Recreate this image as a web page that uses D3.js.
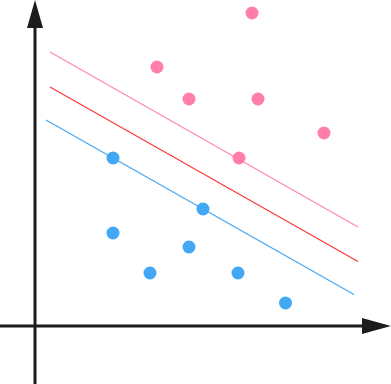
<!DOCTYPE html>
<html>
<head>
<meta charset="utf-8">
<script src="https://cdn.jsdelivr.net/npm/d3@7"></script>
<style>
html,body{margin:0;padding:0;background:#fff;}
svg{display:block;}
</style>
</head>
<body>
<svg id="chart" width="391" height="384"></svg>
<script>
// Data (arbitrary units; origin at axes crossing)
const classAX = [21.7, 12.2, 15.4, 22.3, 28.9, 20.4];
const classAY = [31.3, 25.9, 22.7, 22.7, 19.3, 16.8];
const classBX = [7.8, 16.8, 7.8, 15.4, 11.5, 20.3, 25.05];
const classBY = [16.8, 11.7, 9.3, 7.9, 5.3, 5.3, 2.3];
// separating lines: [x1, y1, x2, y2]
const upperMargin = [1.5, 27.4, 32.3, 9.9];
const decisionLine = [1.5, 23.9, 32.3, 6.45];
const lowerMargin = [1.1, 20.6, 31.9, 3.15];

const W = 391, H = 384;
const svg = d3.select("#chart");
const x = d3.scaleLinear().domain([-3.5, 35.6]).range([0, W]);
const y = d3.scaleLinear().domain([-5.8, 32.6]).range([H, 0]);

const axisColor = "#1c1c1c";
const x0 = x(0), y0 = y(0);

// axes
svg.append("line").attr("x1", 0).attr("x2", 362).attr("y1", y0).attr("y2", y0)
  .attr("stroke", axisColor).attr("stroke-width", 3);
svg.append("line").attr("x1", x0).attr("x2", x0).attr("y1", H).attr("y2", 28)
  .attr("stroke", axisColor).attr("stroke-width", 3);
svg.append("path").attr("d", `M391,${y0} L362,${y0-8} L362,${y0+8} Z`).attr("fill", axisColor);
svg.append("path").attr("d", `M${x0},0 L${x0-8},28 L${x0+8},28 Z`).attr("fill", axisColor);

// lines
const lines = [
  {d: upperMargin, c: "#ff8ab4"},
  {d: decisionLine, c: "#ff3838"},
  {d: lowerMargin, c: "#4aa8f2"}
];
svg.selectAll("line.sep").data(lines).enter().append("line").attr("class", "sep")
  .attr("x1", d => x(d.d[0])).attr("y1", d => y(d.d[1]))
  .attr("x2", d => x(d.d[2])).attr("y2", d => y(d.d[3]))
  .attr("stroke", d => d.c).attr("stroke-width", 1.3);

// points
const A = classAX.map((v, i) => [v, classAY[i]]);
const B = classBX.map((v, i) => [v, classBY[i]]);
svg.selectAll("circle.a").data(A).enter().append("circle").attr("class", "a")
  .attr("cx", d => x(d[0])).attr("cy", d => y(d[1])).attr("r", 6.5).attr("fill", "#ff7eab");
svg.selectAll("circle.b").data(B).enter().append("circle").attr("class", "b")
  .attr("cx", d => x(d[0])).attr("cy", d => y(d[1])).attr("r", 6.5).attr("fill", "#42a7f4");
</script>
</body>
</html>
